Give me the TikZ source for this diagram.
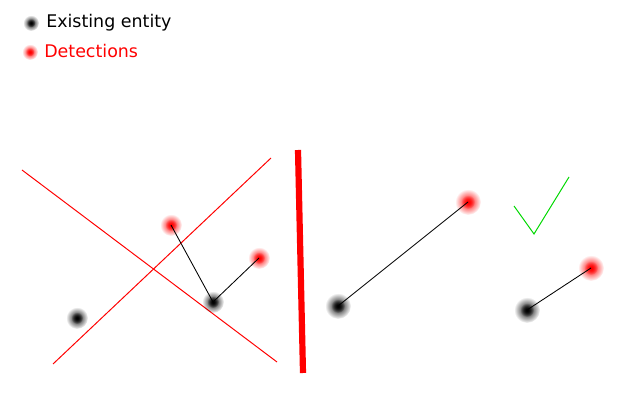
\documentclass[tikz,border=0pt]{standalone}
\usepackage{fontspec}
\setmainfont{DejaVu Sans}
\usetikzlibrary{fadings}
\tikzfading[name=fuzzy, inner color=transparent!0, outer color=transparent!100]
\begin{document}
\begin{tikzpicture}[x=0.025cm,y=-0.025cm,
  ent/.style={fill=black, path fading=fuzzy},
  det/.style={fill=red, path fading=fuzzy},
  link/.style={black, line width=0.6pt},
  cross/.style={red, line width=0.7pt},
  legtext/.style={anchor=west, inner sep=0pt, font=\fontsize{12.4pt}{14pt}\selectfont}]
\useasboundingbox (0,0) rectangle (640,400);
\fill[white] (0,0) rectangle (640,400);
% legend
\coordinate (le) at (31,23);
\coordinate (ld) at (30,52);
\fill[ent] (le) circle (8); \fill[ent] (le) circle (4.5);
\fill[det] (ld) circle (8); \fill[det] (ld) circle (4.5);
\node[legtext] (lt1) at (46,23) {Existing entity};
\node[legtext, text=red] (lt2) at (44,51) {Detections};
% left panel
\coordinate (c1a) at (22,170); \coordinate (c1b) at (277,362);
\coordinate (c2a) at (53,364); \coordinate (c2b) at (271,158);
\draw[cross] (c1a) -- (c1b);
\draw[cross] (c2a) -- (c2b);
\coordinate (e1) at (77,318);
\coordinate (e2) at (213,302);
\coordinate (d1) at (171,225);
\coordinate (d2) at (259,258);
\foreach \p in {e1,e2} {\fill[ent] (\p) circle (11); \fill[ent] (\p) circle (6);}
\foreach \p in {d1,d2} {\fill[det] (\p) circle (11); \fill[det] (\p) circle (6);}
\draw[link] (d1) -- (e2);
\draw[link] (e2) -- (d2);
% separator
\coordinate (sa) at (298,150); \coordinate (sb) at (303,373);
\draw[red, line width=4.4pt] (sa) -- (sb);
% middle panel
\coordinate (e3) at (338,306);
\coordinate (d3) at (468,202);
\foreach \p in {e3} {\fill[ent] (\p) circle (13); \fill[ent] (\p) circle (7);}
\foreach \p in {d3} {\fill[det] (\p) circle (13); \fill[det] (\p) circle (7);}
\draw[link] (e3) -- (d3);
% right panel
\coordinate (k1) at (514,206); \coordinate (k2) at (534,234); \coordinate (k3) at (569,177);
\draw[green!85!black, line width=0.7pt] (k1) -- (k2) -- (k3);
\coordinate (e4) at (527,310);
\coordinate (d4) at (591,268);
\foreach \p in {e4} {\fill[ent] (\p) circle (13); \fill[ent] (\p) circle (7);}
\foreach \p in {d4} {\fill[det] (\p) circle (13); \fill[det] (\p) circle (7);}
\draw[link] (e4) -- (d4);
\end{tikzpicture}
\end{document}
